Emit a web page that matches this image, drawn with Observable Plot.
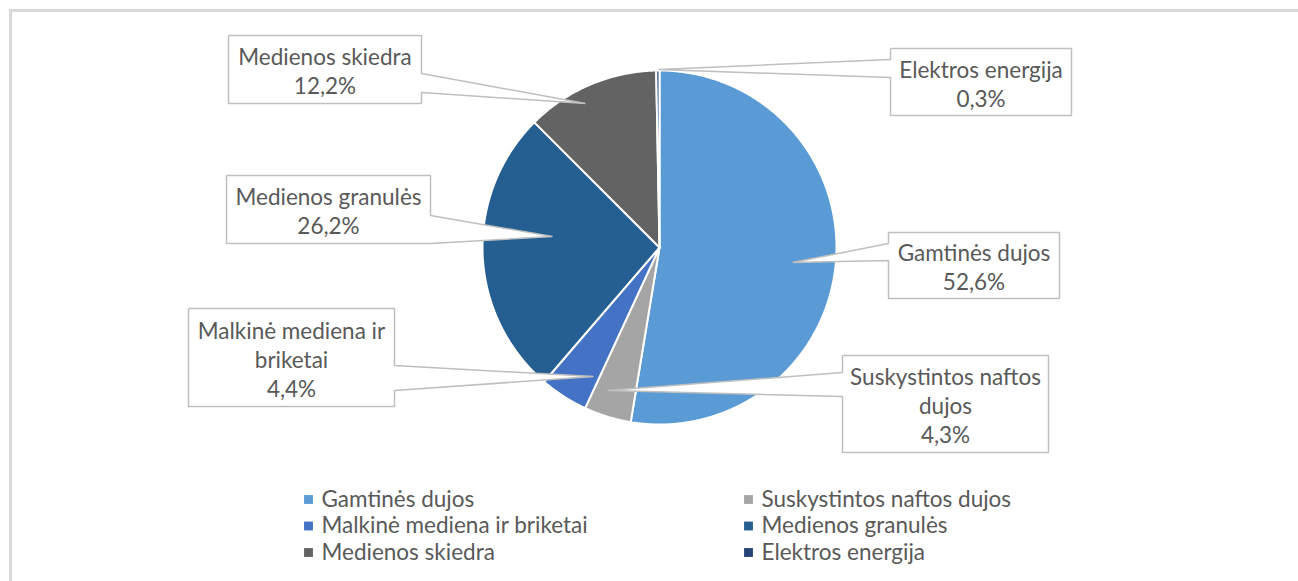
<!DOCTYPE html>
<html><head><meta charset="utf-8">
<script src="https://cdn.jsdelivr.net/npm/d3@7"></script>
<script src="https://cdn.jsdelivr.net/npm/@observablehq/plot@0.6"></script>
<style>
html,body{margin:0;padding:0;background:#fff;overflow:hidden;}
#frame{position:absolute;left:9px;top:9px;width:1400px;height:700px;border:3px solid #D9D9D9;}
#chart{position:absolute;left:0;top:0;}
</style></head><body>
<div id="frame"></div><div id="chart"></div>
<script>
// ---- data ----
const categories = ["Gamtinės dujos", "Suskystintos naftos dujos", "Malkinė mediena ir briketai", "Medienos granulės", "Medienos skiedra", "Elektros energija"];
const values = [52.6, 4.3, 4.4, 26.2, 12.2, 0.3];
const colors = ["#5B9BD5", "#A5A5A5", "#4472C4", "#255E91", "#636363", "#264478"];
const calloutNames = ["Gamtinės dujos", "Suskystintos naftos\ndujos", "Malkinė mediena ir\nbriketai", "Medienos granulės", "Medienos skiedra", "Elektros energija"];

// ---- layout ----
const W = 1298, H = 581, CX = 659, CY = 247, R = 177;
const FONT = "Lato, 'Open Sans', sans-serif", FS = 22.5, TEXT = "#595959";
// callout boxes: [x0, x1, y0, y1], pointer side, pointer base [b0, b1], tip [x, y]
const boxes = [[888, 1059, 232, 298], [842, 1048, 355, 452], [188, 394, 308, 406], [226, 430, 175, 243], [228, 421, 35, 103], [890, 1071, 48, 115]];
const sides = ["left", "left", "right", "right", "right", "left"];
const bases = [[243, 260], [372, 396], [365, 390], [215, 243], [73, 92], [59, 77]];
const tips = [[792, 262], [607, 390], [593, 376], [552, 236], [585, 103], [658, 69]];
const legendCols = [308, 748], legendTextDx = 13, legendRow0 = 499, legendDy = 26.5;

const rows = categories.map((name, i) => ({name, value: values[i]}));
const fmt = v => v.toFixed(1).replace(".", ",") + "%";

// slices
const arcs = d3.pie().sort(null).value(d => d.value)(rows);
const slicePts = [];
for (const a of arcs) {
  const n = Math.max(2, Math.ceil((a.endAngle - a.startAngle) / (Math.PI / 360)));
  slicePts.push({name: a.data.name, x: CX, y: CY});
  for (let k = 0; k <= n; k++) {
    const t = a.startAngle + (a.endAngle - a.startAngle) * k / n;
    slicePts.push({name: a.data.name, x: CX + R * Math.sin(t), y: CY - R * Math.cos(t)});
  }
  slicePts.push({name: a.data.name, x: CX, y: CY});
}

// callout shapes
const calloutPts = [];
rows.forEach((r, i) => {
  const [x0, x1, y0, y1] = boxes[i], [b0, b1] = bases[i], [tx, ty] = tips[i];
  const pts = sides[i] === "right"
    ? [[x0, y0], [x1, y0], [x1, b0], [tx, ty], [x1, b1], [x1, y1], [x0, y1], [x0, y0]]
    : [[x0, y0], [x1, y0], [x1, y1], [x0, y1], [x0, b1], [tx, ty], [x0, b0], [x0, y0]];
  pts.forEach(([x, y]) => calloutPts.push({name: r.name, x, y}));
});
const calloutText = rows.map((r, i) => ({
  x: (boxes[i][0] + boxes[i][1]) / 2,
  y: (boxes[i][2] + boxes[i][3]) / 2 + 1,
  text: calloutNames[i] + "\n" + fmt(r.value)
}));

// legend
const legendRows = rows.map((r, i) => ({
  name: r.name,
  x: legendCols[i % 2],
  y: legendRow0 + Math.floor(i / 2) * legendDy
}));

const chart = Plot.plot({
  width: W, height: H, margin: 0,
  x: {domain: [0, W], range: [0, W], axis: null},
  y: {domain: [0, H], range: [0, H], axis: null},
  color: {domain: categories, range: colors},
  style: {background: "transparent", fontFamily: FONT, fontSize: FS + "px", color: TEXT},
  marks: [
    Plot.line(slicePts, {x: "x", y: "y", z: "name", fill: "name", stroke: "white", strokeWidth: 2, strokeLinejoin: "round"}),
    Plot.line(calloutPts, {x: "x", y: "y", z: "name", fill: "white", stroke: "#BFBFBF", strokeWidth: 1.5, strokeLinejoin: "miter", strokeLinecap: "butt"}),
    Plot.text(calloutText, {x: "x", y: "y", text: "text", lineHeight: 1.28, fill: TEXT, fontSize: FS}),
    Plot.dot(legendRows, {x: "x", y: "y", symbol: "square", r: 5, fill: "name", stroke: null}),
    Plot.text(legendRows, {x: d => d.x + legendTextDx, y: "y", text: "name", textAnchor: "start", fill: TEXT, fontSize: FS})
  ]
});
document.getElementById("chart").appendChild(chart);
</script>
</body></html>
